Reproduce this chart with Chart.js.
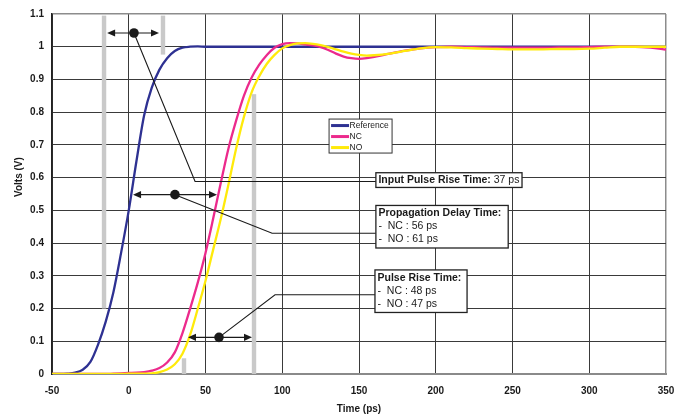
<!DOCTYPE html>
<html><head><meta charset="utf-8">
<script src="https://cdn.jsdelivr.net/npm/chart.js@4/dist/chart.umd.min.js"></script>
<style>html,body{margin:0;padding:0;background:#fff;}#wrap{width:688px;height:415px;position:relative;}</style>
</head><body><div id="wrap"><canvas id="c" width="688" height="415"></canvas></div>
<script>
// ---- data ----
const timePs = [-50,-45,-40,-35,-30,-25,-20,-15,-10,-5,0,5,10,15,20,25,30,35,40,45,50,55,60,65,70,75,80,85,90,95,100,105,110,115,120,125,130,135,140,145,150,155,160,170,180,190,200,210,220,230,240,250,260,270,280,290,300,310,320,330,340,350];
const referenceV = [0,0,0.001,0.004,0.013,0.037,0.09,0.16,0.25,0.37,0.5,0.65,0.79,0.875,0.93,0.965,0.987,0.997,1.0,1.001,1.0,1,1,1,1,1,1,1,1,1,1,1,1,1,1,1,1,1,1,1,1,1,1,1,1,1,1,1,1,1,1,1,1,1,1,1,1,1,1,1,1,1];
const ncV = [0,0,0,0,0,0,0,0,0.001,0.002,0.003,0.004,0.006,0.01,0.018,0.035,0.066,0.125,0.2,0.28,0.37,0.475,0.585,0.69,0.775,0.85,0.905,0.945,0.975,0.997,1.008,1.011,1.01,1.007,1.004,0.999,0.99,0.979,0.97,0.965,0.963,0.965,0.969,0.979,0.988,0.995,0.999,1.0,0.999,0.998,0.997,0.997,0.997,0.997,0.998,0.998,0.999,1.0,1.0,1.0,0.997,0.991];
const noV = [0,0,0,0,0,0,0,0,0,0,0.001,0.001,0.001,0.002,0.006,0.014,0.03,0.062,0.12,0.2,0.285,0.38,0.475,0.58,0.69,0.785,0.86,0.91,0.948,0.975,0.995,1.005,1.01,1.011,1.009,1.005,0.999,0.992,0.985,0.979,0.975,0.973,0.974,0.979,0.987,0.995,0.999,0.998,0.996,0.994,0.993,0.992,0.992,0.992,0.993,0.993,0.994,0.997,1.0,1.0,1.0,1.0];
const seriesNames = ['Reference','NC','NO'];
const xTicks = [-50,0,50,100,150,200,250,300,350];
const yTicks = [0,0.1,0.2,0.3,0.4,0.5,0.6,0.7,0.8,0.9,1.0,1.1];
const yTickLabels = ['0','0.1','0.2','0.3','0.4','0.5','0.6','0.7','0.8','0.9','1','1.1'];
const xTitle = 'Time (ps)';
const yTitle = 'Volts (V)';
const annotationTexts = [
  [[['Input Pulse Rise Time: ', true], ['37 ps', false]]],
  [[['Propagation Delay Time:', true]], [['-  NC : 56 ps', false]], [['-  NO : 61 ps', false]]],
  [[['Pulse Rise Time:', true]], [['-  NC : 48 ps', false]], [['-  NO : 47 ps', false]]]
];

// ---- styling / annotation geometry (in data units) ----
const COLORS = ['#2E3192', '#EC2A8C', '#FFEA0A'];
const FONT = '"Liberation Sans", Arial, Helvetica, sans-serif';
const grayBars = [
  {t: -16.1, v0: 0.2, v1: 1.095},
  {t: 22.3, v0: 0.976, v1: 1.095},
  {t: 36, v0: 0, v1: 0.048},
  {t: 81.6, v0: 0, v1: 0.855}
];
const pointers = [
  {v: 1.042, t0: -14.1, t1: 19.7, dotT: 3.4, elbow: [43.2, 0.588], boxT: 161},
  {v: 0.548, t0: 2.8, t1: 57.5, dotT: 30.1, elbow: [93.4, 0.430], boxT: 161},
  {v: 0.112, t0: 38.6, t1: 80.3, dotT: 58.8, elbow: [95.3, 0.242], boxT: 160.4}
];
const boxes = [
  {t0: 161, t1: 256.2, vTop: 0.615, vBot: 0.570},
  {t0: 161, t1: 247.2, vTop: 0.515, vBot: 0.385},
  {t0: 160.4, t1: 220.4, vTop: 0.318, vBot: 0.188}
];
const legendAnchor = {t: 130.5, v: 0.779};

const overlay = {
  id: 'overlay',
  afterDatasetsDraw(chart) {
    const {ctx, scales: {x, y}} = chart;
    const px = t => x.getPixelForValue(t), py = v => y.getPixelForValue(v);
    ctx.save();
    // gray marker bars
    ctx.fillStyle = '#c9c9c9';
    grayBars.forEach(b => {
      const X = px(b.t);
      ctx.fillRect(X - 2.2, py(b.v1), 4.4, py(b.v0) - py(b.v1));
    });
    // arrows, dots, leaders
    ctx.strokeStyle = '#1a1a1a'; ctx.fillStyle = '#1a1a1a'; ctx.lineWidth = 1.1;
    const head = (xt, yt, dir) => {
      ctx.beginPath(); ctx.moveTo(xt, yt);
      ctx.lineTo(xt - dir * 8, yt - 3.6); ctx.lineTo(xt - dir * 8, yt + 3.6);
      ctx.closePath(); ctx.fill();
    };
    pointers.forEach(p => {
      const y0 = py(p.v), xa = px(p.t0), xb = px(p.t1), xd = px(p.dotT);
      ctx.beginPath();
      ctx.moveTo(xd, y0); ctx.lineTo(px(p.elbow[0]), py(p.elbow[1])); ctx.lineTo(px(p.boxT), py(p.elbow[1]));
      ctx.stroke();
      ctx.beginPath(); ctx.moveTo(xa + 5, y0); ctx.lineTo(xb - 5, y0); ctx.stroke();
      head(xa, y0, -1); head(xb, y0, 1);
      ctx.beginPath(); ctx.arc(xd, y0, 4.8, 0, Math.PI * 2); ctx.fill();
    });
    // text boxes
    boxes.forEach((b, i) => {
      const L = px(b.t0), R = px(b.t1), T = py(b.vTop), B = py(b.vBot);
      ctx.fillStyle = '#fff'; ctx.fillRect(L, T, R - L, B - T);
      ctx.strokeStyle = '#222'; ctx.lineWidth = 1.3; ctx.strokeRect(L, T, R - L, B - T);
      ctx.fillStyle = '#1a1a1a'; ctx.textBaseline = 'middle'; ctx.textAlign = 'left';
      annotationTexts[i].forEach((line, li) => {
        let cx = L + 2.5;
        const cy = T + 7.8 + li * 13;
        line.forEach(([txt, bold]) => {
          ctx.font = (bold ? 'bold ' : '') + '10.5px ' + FONT;
          ctx.fillText(txt, cx, cy);
          cx += ctx.measureText(txt).width;
        });
      });
    });
    // legend
    const lx = px(legendAnchor.t), ly = py(legendAnchor.v);
    ctx.fillStyle = '#fff'; ctx.fillRect(lx, ly, 63, 34);
    ctx.strokeStyle = '#333'; ctx.lineWidth = 1; ctx.strokeRect(lx, ly, 63, 34);
    ctx.font = '8.5px ' + FONT; ctx.textBaseline = 'middle';
    chart.data.datasets.forEach((ds, i) => {
      const cy = ly + 6.5 + i * 11;
      ctx.strokeStyle = ds.borderColor; ctx.lineWidth = 3;
      ctx.beginPath(); ctx.moveTo(lx + 2, cy); ctx.lineTo(lx + 20, cy); ctx.stroke();
      ctx.fillStyle = '#222'; ctx.fillText(ds.label, lx + 20.5, cy + 0.5);
    });
    // y-axis title
    ctx.save();
    ctx.translate(19, chart.chartArea.top + 0.453 * (chart.chartArea.bottom - chart.chartArea.top));
    ctx.rotate(-Math.PI / 2);
    ctx.font = 'bold 10px ' + FONT; ctx.fillStyle = '#1a1a1a'; ctx.textAlign = 'center'; ctx.textBaseline = 'middle';
    ctx.fillText(yTitle, 0, 0);
    ctx.restore();
    ctx.restore();
  }
};

const mk = (arr) => timePs.map((t, i) => ({x: t, y: arr[i]}));
const seriesData = [referenceV, ncV, noV];

new Chart(document.getElementById('c'), {
  type: 'line',
  data: {
    datasets: seriesNames.map((name, i) => ({
      label: name,
      data: mk(seriesData[i]),
      borderColor: COLORS[i],
      backgroundColor: COLORS[i],
      borderWidth: 2.3,
      pointRadius: 0,
      cubicInterpolationMode: 'monotone',
      order: 3 - i,
      fill: false
    }))
  },
  options: {
    responsive: false,
    animation: false,
    layout: {padding: {top: 12, right: 22, left: 0, bottom: 0}},
    plugins: {legend: {display: false}, tooltip: {enabled: false}},
    scales: {
      x: {
        type: 'linear', min: -50, max: 350,
        afterBuildTicks: s => { s.ticks = xTicks.map(v => ({value: v})); },
        afterFit: s => { s.height = 41; },
        ticks: {font: {family: FONT, size: 10, weight: 'bold'}, color: '#1a1a1a', padding: 11, maxRotation: 0},
        grid: {color: c => (c.tick && c.tick.value === 350) ? '#8c8c8c' : '#3a3a3a', lineWidth: c => (c.tick && c.tick.value === 350) ? 1.5 : 1, drawTicks: false},
        border: {display: true, color: '#8a8a8a', width: 2},
        title: {display: true, text: xTitle, font: {family: FONT, size: 10, weight: 'bold'}, color: '#1a1a1a', padding: {top: 0, bottom: 0}}
      },
      y: {
        min: 0, max: 1.1,
        afterBuildTicks: s => { s.ticks = yTicks.map(v => ({value: v})); },
        afterFit: s => { s.width = 52; },
        ticks: {font: {family: FONT, size: 10, weight: 'bold'}, color: '#1a1a1a', padding: 8,
          callback: (v, i) => yTickLabels[i]},
        grid: {color: c => (c.tick && Math.abs(c.tick.value - 1.1) < 1e-6) ? '#8c8c8c' : '#3a3a3a', lineWidth: c => (c.tick && Math.abs(c.tick.value - 1.1) < 1e-6) ? 1.5 : 1, drawTicks: false},
        border: {display: true, color: '#222', width: 1.6}
      }
    }
  },
  plugins: [overlay]
});
</script>
</body></html>
